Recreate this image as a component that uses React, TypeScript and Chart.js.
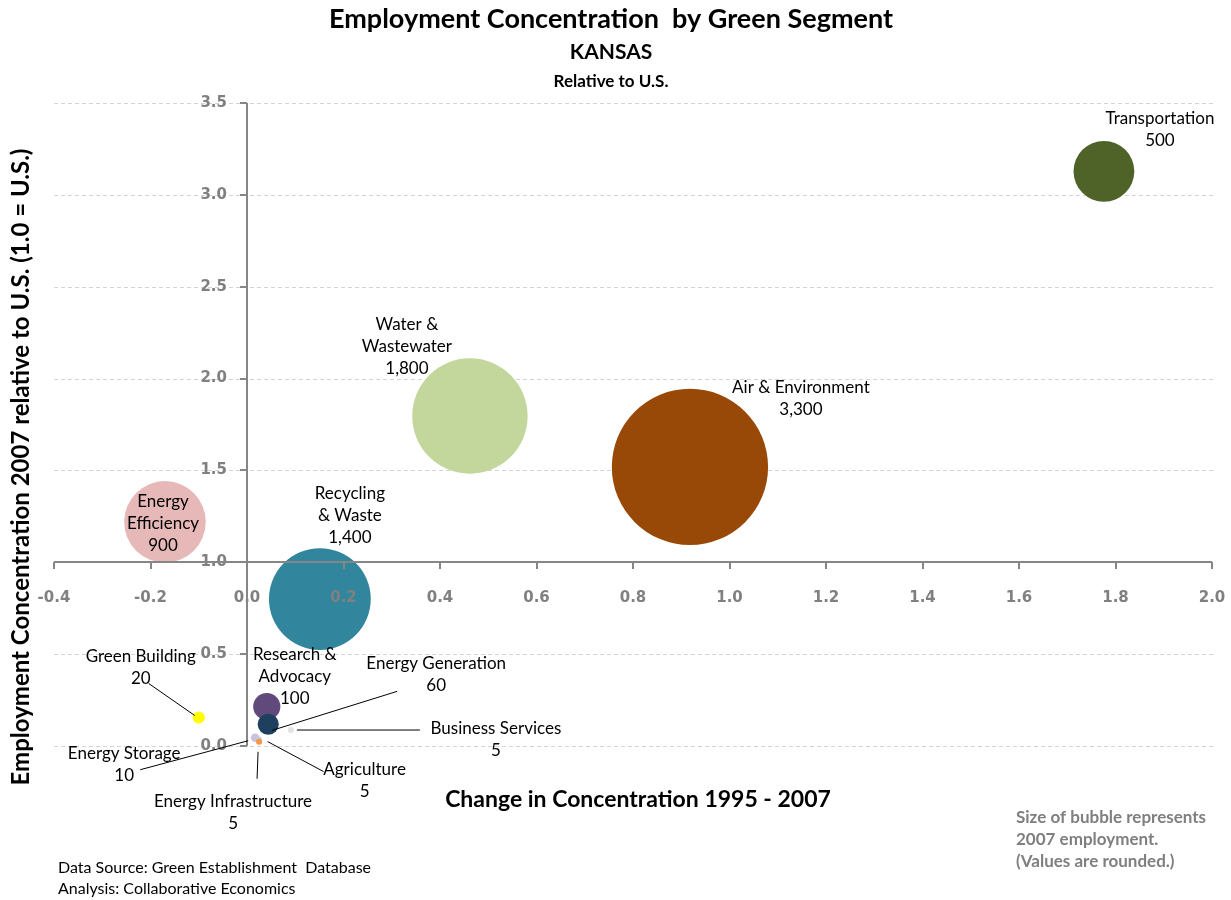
import { useEffect, useRef } from "react";
import { Chart, registerables } from "chart.js";

Chart.register(...registerables);

// ---------- data ----------
const SEGMENTS = [
  "Transportation",
  "Air & Environment",
  "Water & Wastewater",
  "Energy Efficiency",
  "Recycling & Waste",
  "Research & Advocacy",
  "Energy Generation",
  "Green Building",
  "Business Services",
  "Energy Storage",
  "Agriculture",
  "Energy Infrastructure",
];
// change in concentration 1995-2007 (x)
const CHANGE_1995_2007 = [1.776, 0.918, 0.462, -0.17, 0.151, 0.041, 0.044, -0.1, 0.091, 0.017, 0.024, 0.025];
// employment concentration 2007 relative to U.S. (y)
const CONCENTRATION_2007 = [3.128, 1.519, 1.796, 1.22, 0.8, 0.215, 0.118, 0.155, 0.087, 0.045, 0.035, 0.023];
// 2007 employment (bubble size)
const EMPLOYMENT_2007 = [500, 3300, 1800, 900, 1400, 100, 60, 20, 5, 10, 5, 5];
const EMPLOYMENT_TEXT = ["500", "3,300", "1,800", "900", "1,400", "100", "60", "20", "5", "10", "5", "5"];

const X_TICKS = [-0.4, -0.2, 0.0, 0.2, 0.4, 0.6, 0.8, 1.0, 1.2, 1.4, 1.6, 1.8, 2.0];
const X_TICK_LABELS = ["-0.4", "-0.2", "0.0", "0.2", "0.4", "0.6", "0.8", "1.0", "1.2", "1.4", "1.6", "1.8", "2.0"];
const Y_TICKS = [0.0, 0.5, 1.0, 1.5, 2.0, 2.5, 3.0, 3.5];
const Y_TICK_LABELS = ["0.0", "0.5", "1.0", "1.5", "2.0", "2.5", "3.0", "3.5"];

// ---------- styles / layout ----------
const COLORS: Record<string, string> = {
  "Transportation": "#4f6228",
  "Air & Environment": "#984807",
  "Water & Wastewater": "#c3d69b",
  "Energy Efficiency": "#e6b9b8",
  "Recycling & Waste": "#31859c",
  "Research & Advocacy": "#604a7b",
  "Energy Generation": "#1f3f5f",
  "Green Building": "#ffff00",
  "Business Services": "#e3e3e3",
  "Energy Storage": "#ccc1da",
  "Agriculture": "#b9cde5",
  "Energy Infrastructure": "#f79646",
};
const NAME_LINES: Record<string, string[]> = {
  "Water & Wastewater": ["Water &", "Wastewater"],
  "Energy Efficiency": ["Energy", "Efficiency"],
  "Recycling & Waste": ["Recycling", "& Waste"],
  "Research & Advocacy": ["Research &", "Advocacy"],
};
// label centre of first line, pixel offset from bubble centre
const LABEL_OFFSET: Record<string, [number, number]> = {
  "Transportation": [56, -53],
  "Air & Environment": [111, -79],
  "Water & Wastewater": [-63, -92],
  "Energy Efficiency": [-2, -20],
  "Recycling & Waste": [30, -106],
  "Research & Advocacy": [28, -52],
  "Energy Generation": [168, -61],
  "Green Building": [-58, -61],
  "Business Services": [205, -2],
  "Energy Storage": [-131, 16],
  "Agriculture": [106, 30],
  "Energy Infrastructure": [-26, 60],
};
// leader line [x1,y1,x2,y2] pixel offsets from bubble centre
const LEADERS: Record<string, [number, number, number, number]> = {
  "Green Building": [-4, -2, -50, -34],
  "Energy Storage": [-7, 3, -115, 32],
  "Energy Infrastructure": [-1, 10, -2, 37],
  "Agriculture": [9, 2, 65, 32],
  "Energy Generation": [4, 6, 129, -33],
  "Business Services": [6, 0, 129, 0],
};
const BUBBLE_SCALE = 1.36;
const TICK_COLOR = "#808080";
const AXIS_COLOR = "#868686";
const GRID_COLOR = "#d4d4d4";
const SANS = "Lato, 'Open Sans', sans-serif";

const overlayPlugin = {
  id: "overlay",
  beforeDatasetsDraw(chart: any) {
    const { ctx, chartArea: ca } = chart;
    const ys = chart.scales.y;
    ctx.save();
    ctx.strokeStyle = GRID_COLOR;
    ctx.lineWidth = 1;
    ctx.setLineDash([4, 3]);
    Y_TICKS.forEach((v) => {
      const py = Math.round(ys.getPixelForValue(v)) + 0.5;
      ctx.beginPath();
      ctx.moveTo(ca.left, py);
      ctx.lineTo(ca.right + 3, py);
      ctx.stroke();
    });
    ctx.restore();
  },
  afterDatasetsDraw(chart: any) {
    const { ctx, chartArea: ca } = chart;
    const xs = chart.scales.x;
    const ys = chart.scales.y;
    const ax = Math.round(xs.getPixelForValue(0));
    const ay = Math.round(ys.getPixelForValue(1));
    ctx.save();
    // tick labels
    ctx.fillStyle = TICK_COLOR;
    ctx.font = "bold 15px 'DejaVu Sans'";
    ctx.textBaseline = "middle";
    ctx.textAlign = "right";
    Y_TICKS.forEach((v, i) => ctx.fillText(Y_TICK_LABELS[i], ax - 20, ys.getPixelForValue(v)));
    ctx.textAlign = "center";
    X_TICKS.forEach((v, i) => ctx.fillText(X_TICK_LABELS[i], xs.getPixelForValue(v), ay + 36));
    // axes
    ctx.strokeStyle = AXIS_COLOR;
    ctx.lineWidth = 2;
    ctx.beginPath();
    ctx.moveTo(ca.left, ay);
    ctx.lineTo(ca.right, ay);
    X_TICKS.forEach((v) => {
      const px = Math.round(xs.getPixelForValue(v));
      ctx.moveTo(px, ay);
      ctx.lineTo(px, ay + 7);
    });
    ctx.moveTo(ax, ca.top);
    ctx.lineTo(ax, ca.bottom);
    Y_TICKS.forEach((v) => {
      const py = Math.round(ys.getPixelForValue(v));
      ctx.moveTo(ax, py);
      ctx.lineTo(ax - 7, py);
    });
    ctx.stroke();

    // data labels and leader lines
    ctx.strokeStyle = "#000";
    ctx.lineWidth = 1;
    ctx.fillStyle = "#000";
    ctx.font = `17px ${SANS}`;
    ctx.textAlign = "center";
    ctx.textBaseline = "middle";
    SEGMENTS.forEach((name, i) => {
      const cx = xs.getPixelForValue(CHANGE_1995_2007[i]);
      const cy = ys.getPixelForValue(CONCENTRATION_2007[i]);
      const lead = LEADERS[name];
      if (lead) {
        ctx.beginPath();
        ctx.moveTo(cx + lead[0], cy + lead[1]);
        ctx.lineTo(cx + lead[2], cy + lead[3]);
        ctx.stroke();
      }
      const lines = [...(NAME_LINES[name] || [name]), EMPLOYMENT_TEXT[i]];
      const [dx, dy] = LABEL_OFFSET[name];
      lines.forEach((t, k) => ctx.fillText(t, cx + dx, cy + dy + k * 22));
    });
    ctx.restore();
  },
  afterDraw(chart: any) {
    const { ctx } = chart;
    ctx.save();
    ctx.fillStyle = "#000";
    ctx.textAlign = "center";
    ctx.textBaseline = "middle";
    ctx.font = `bold 27px ${SANS}`;
    ctx.fillText("Employment Concentration  by Green Segment", 611, 19);
    ctx.font = `bold 21px ${SANS}`;
    ctx.fillText("KANSAS", 611, 52);
    ctx.font = `bold 17px ${SANS}`;
    ctx.fillText("Relative to U.S.", 611, 82);

    ctx.font = `bold 23px ${SANS}`;
    ctx.fillText("Change in Concentration 1995 - 2007", 638, 800);
    ctx.save();
    ctx.translate(21, 467);
    ctx.rotate(-Math.PI / 2);
    ctx.font = `bold 24px ${SANS}`;
    ctx.fillText("Employment Concentration 2007 relative to U.S. (1.0 = U.S.)", 0, 0);
    ctx.restore();

    ctx.textAlign = "left";
    ctx.font = `16px ${SANS}`;
    ctx.fillText("Data Source: Green Establishment  Database", 58, 868);
    ctx.fillText("Analysis: Collaborative Economics", 58, 889);

    ctx.fillStyle = "#7f7f7f";
    ctx.font = `bold 17px ${SANS}`;
    ctx.fillText("Size of bubble represents", 1016, 818);
    ctx.fillText("2007 employment.", 1016, 840);
    ctx.fillText("(Values are rounded.)", 1016, 862);
    ctx.restore();
  },
};

export default function App() {
  const canvasRef = useRef<HTMLCanvasElement | null>(null);

  useEffect(() => {
    if (!canvasRef.current) return;
    const points = SEGMENTS.map((_, i) => ({
      x: CHANGE_1995_2007[i],
      y: CONCENTRATION_2007[i],
      r: BUBBLE_SCALE * Math.sqrt(EMPLOYMENT_2007[i]),
    }));
    const chart = new Chart(canvasRef.current, {
      type: "bubble",
      data: {
        datasets: [
          {
            label: "Green segments",
            data: points,
            backgroundColor: SEGMENTS.map((s) => COLORS[s]),
            borderWidth: 0,
            hoverRadius: 0,
          },
        ],
      },
      options: {
        responsive: false,
        animation: false,
        events: [],
        layout: { autoPadding: false, padding: { left: 54, right: 19, top: 103, bottom: 154 } },
        plugins: { legend: { display: false }, tooltip: { enabled: false }, title: { display: false } },
        scales: {
          x: { type: "linear", display: false, min: -0.4, max: 2.0 },
          y: { type: "linear", display: false, min: 0, max: 3.5 },
        },
      },
      plugins: [overlayPlugin],
    });
    return () => chart.destroy();
  }, []);

  return (
    <div style={{ position: "absolute", left: 0, top: 0, width: 1231, height: 900, background: "#fff" }}>
      <canvas ref={canvasRef} width={1231} height={900} />
    </div>
  );
}
